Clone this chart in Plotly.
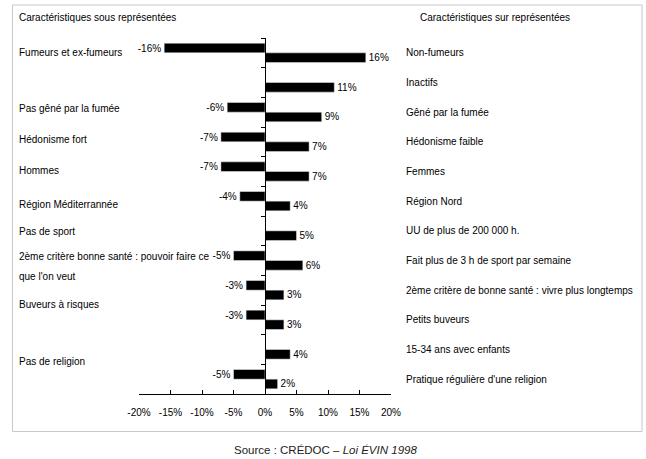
import plotly.graph_objects as go

# Data
rows = list(range(12))
neg_values = [-16, None, -6, -7, -7, -4, None, -5, -3, -3, None, -5]
pos_values = [16, 11, 9, 7, 7, 4, 5, 6, 3, 3, 4, 2]
left_labels = ["Fumeurs et ex-fumeurs", "Pas gêné par la fumée", "Hédonisme fort", "Hommes",
               "Région Méditerrannée", "Pas de sport",
               "2ème critère bonne santé : pouvoir faire ce", "que l'on veut",
               "Buveurs à risques", "Pas de religion"]
left_label_rows = [0.0, 1.87, 2.91, 3.96, 5.11, 6.02, 6.87, 7.55, 8.49, 10.39]
right_labels = ["Non-fumeurs", "Inactifs", "Gêné par la fumée", "Hédonisme faible", "Femmes",
                "Région Nord", "UU de plus de 200 000 h.", "Fait plus de 3 h de sport par semaine",
                "2ème critère de bonne santé : vivre plus longtemps", "Petits buveurs",
                "15-34 ans avec enfants", "Pratique régulière d'une religion"]
tick_vals = [-20, -15, -10, -5, 0, 5, 10, 15, 20]
tick_text = ["-20%", "-15%", "-10%", "-5%", "0%", "5%", "10%", "15%", "20%"]

FONT = "Liberation Sans, Arial, sans-serif"

def lab(v):
    return "" if v is None else f"{v}%"

fig = go.Figure()
fig.add_trace(go.Bar(y=rows, x=neg_values, orientation="h", marker_color="black",
                     text=[lab(v) for v in neg_values], textposition="outside",
                     constraintext="none", cliponaxis=False,
                     textfont=dict(size=10, color="black", family=FONT), showlegend=False))
fig.add_trace(go.Bar(y=rows, x=pos_values, orientation="h", marker_color="black",
                     text=[lab(v) for v in pos_values], textposition="outside",
                     constraintext="none", cliponaxis=False,
                     textfont=dict(size=10, color="black", family=FONT), showlegend=False))

W, H = 646, 459
L, R, T, B = 139, 255, 38, 65
pw, ph = W - L - R, H - T - B

def px_x(p):
    return (p - L) / pw

def px_y(p):
    return (H - B - p) / ph

annotations = []
for txt, r in zip(left_labels, left_label_rows):
    annotations.append(dict(x=px_x(17), xref="paper", y=r, yref="y", text=txt, showarrow=False,
                            xanchor="left", yanchor="middle", align="left",
                            font=dict(size=10, color="black", family=FONT)))
for i, txt in enumerate(right_labels):
    annotations.append(dict(x=px_x(404), xref="paper", y=i, yref="y", text=txt, showarrow=False,
                            xanchor="left", yanchor="middle", align="left",
                            font=dict(size=10, color="black", family=FONT)))
annotations.append(dict(x=px_x(17), xref="paper", y=px_y(17), yref="paper",
                        text="Caractéristiques sous représentées", showarrow=False,
                        xanchor="left", yanchor="middle",
                        font=dict(size=10, color="black", family=FONT)))
annotations.append(dict(x=px_x(418), xref="paper", y=px_y(17), yref="paper",
                        text="Caractéristiques sur représentées", showarrow=False,
                        xanchor="left", yanchor="middle",
                        font=dict(size=10, color="black", family=FONT)))
annotations.append(dict(x=px_x(325), xref="paper", y=px_y(450), yref="paper",
                        text="Source : CRÉDOC – <i>Loi ÉVIN 1998</i>", showarrow=False,
                        xanchor="center", yanchor="middle",
                        font=dict(size=11.5, color="#222", family=FONT)))

fig.update_layout(
    width=W, height=H, margin=dict(l=L, r=R, t=T, b=B),
    paper_bgcolor="white", plot_bgcolor="white",
    barmode="group", bargap=0.35, bargroupgap=0,
    xaxis=dict(range=[-20, 20], tickvals=tick_vals, ticktext=tick_text, showgrid=False,
               zeroline=False, showline=True, linecolor="black", linewidth=1,
               ticks="inside", ticklen=4, tickcolor="black", ticklabelstandoff=9,
               tickfont=dict(size=10, color="black", family=FONT), fixedrange=True),
    yaxis=dict(range=[11.5, -0.5], anchor="free", position=0.5, showgrid=False, zeroline=False,
               showline=True, linecolor="black", linewidth=1,
               tickvals=[i - 0.5 for i in range(13)], showticklabels=False,
               ticks="outside", ticklen=4, tickcolor="black", fixedrange=True),
    annotations=annotations,
    shapes=[dict(type="rect", xref="paper", yref="paper",
                 x0=px_x(12.5), x1=px_x(642), y0=px_y(431.5), y1=px_y(5),
                 line=dict(color="#c8c8c8", width=1), layer="below")],
)

fig.write_html("out.html")
